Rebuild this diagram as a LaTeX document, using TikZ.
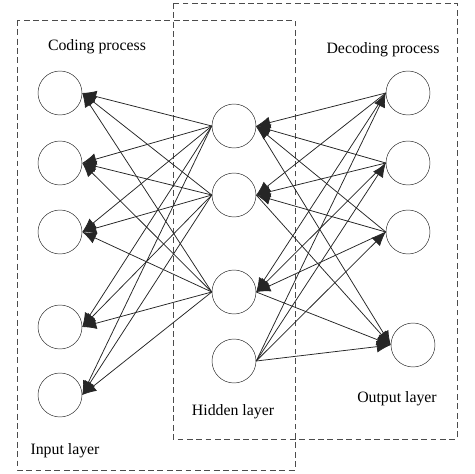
\documentclass[tikz,border=0pt]{standalone}
\usepackage{fontspec}
\setmainfont{Liberation Serif}
\usetikzlibrary{arrows.meta}
\begin{document}
\begin{tikzpicture}[x=0.03cm,y=-0.03cm,
  neuron/.style={draw=black!85,circle,minimum size=1.32cm,inner sep=0pt,fill=white},
  link/.style={draw=black!85,line width=0.65pt,-{Latex[length=12pt,width=10pt]}},
  frame/.style={draw=black!70,line width=0.6pt,dash pattern=on 5pt off 3pt},
  caption/.style={font=\fontsize{13.5}{16}\selectfont}]
\useasboundingbox (0,0) rectangle (474,474);
% dashed boxes
\draw[frame] (17,20) rectangle (295,470);
\draw[frame] (173,3) rectangle (457,439);
% layers
\foreach \n/\y in {1/93,2/163,3/232,4/327,5/395}
  \node[neuron] (in\n) at (60,\y) {};
\foreach \n/\y in {1/126,2/195,3/292,4/361}
  \node[neuron] (hid\n) at (234,\y) {};
\foreach \n/\x/\y in {1/408/93,2/408/163,3/408/232,4/413/345}
  \node[neuron] (out\n) at (\x,\y) {};
% coding side
\foreach \h in {1,2,3}
  \foreach \i in {1,...,5}
    \draw[link] (hid\h.west) -- (in\i.east);
% decoding side
\foreach \h in {1,2,3}
  \foreach \o in {1,2,3}
    \draw[link] (out\o.west) -- (hid\h.east);
\foreach \h in {1,2,3}
  \draw[link] (hid\h.east) -- (out4.west);
\foreach \o in {1,...,4}
  \draw[link] (hid4.east) -- (out\o.west);
% labels
\node[caption] (coding) at (97,47) {Coding process};
\node[caption] (decoding) at (383,50) {Decoding process};
\node[caption] (inlabel) at (65,451) {Input layer};
\node[caption] (hidlabel) at (233,412) {Hidden layer};
\node[caption] (outlabel) at (397,399) {Output layer};
\end{tikzpicture}
\end{document}
